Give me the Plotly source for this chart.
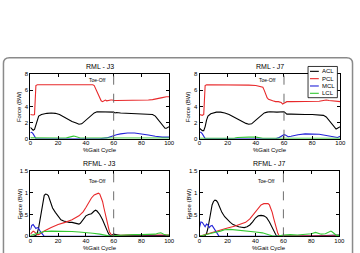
import plotly.graph_objects as go

W, H = 360, 253

series_names = ["ACL", "PCL", "MCL", "LCL"]
series_colors = ["#000000", "#e8292b", "#2323d8", "#34c834"]
panel_titles = ["RML - J3", "RML - J7", "RFML - J3", "RFML - J7"]
toe_off = 60
x_ticks = [0, 20, 40, 60, 80, 100]
top_y_ticks = [0, 2, 4, 6, 8]
bottom_y_ticks = [0, 0.5, 1, 1.5]

# ---------------- RML - J3 ----------------
rml_j3_acl_x = [0,1,2,3,4,5,6,8,10,12,15,18,21,24,27,30,33,35,37,40,43,46,48,50,55,58,60,61,62,65,70,75,80,85,88,90,92,94,96,97,98,99,100]
rml_j3_acl_y = [1.4,1.15,1.05,1.15,1.7,2.4,2.8,3.0,3.1,3.15,3.2,3.15,3.0,2.7,2.4,2.15,1.95,1.8,1.85,2.3,2.8,3.2,3.35,3.35,3.35,3.35,3.3,3.2,3.25,3.2,3.15,3.15,3.1,3.05,3.0,2.8,2.4,1.9,1.5,1.3,1.3,1.4,1.5]
rml_j3_pcl_x = [0,1,2,3,3.5,4,5,10,20,30,40,45,46,47,48,49,50,51,52,53,54,55,56,57,58,59,60,62,65,70,75,80,85,88,90,92,95,98,100]
rml_j3_pcl_y = [3.0,2.95,2.95,3.0,4.5,6.6,6.7,6.7,6.7,6.7,6.7,6.7,6.6,6.2,5.8,5.3,4.9,4.7,4.6,4.7,4.8,4.7,4.75,4.8,4.8,4.8,4.75,4.75,4.75,4.75,4.75,4.8,4.8,4.85,4.9,5.0,5.1,5.2,5.2]
rml_j3_mcl_x = [0,1,2,3,4,5,50,55,58,60,62,65,70,75,80,85,90,95,100]
rml_j3_mcl_y = [0.75,0.8,0.6,0.2,0.02,0,0,0.1,0.3,0.4,0.5,0.6,0.7,0.7,0.6,0.45,0.3,0.2,0.2]
rml_j3_lcl_x = [0,5,10,20,26,28,30,31,32,34,36,40,50,60,70,80,90,100]
rml_j3_lcl_y = [0.1,0.08,0.08,0.08,0.1,0.2,0.3,0.32,0.3,0.15,0.08,0.08,0.08,0.08,0.08,0.08,0.08,0.08]

# ---------------- RML - J7 ----------------
rml_j7_acl_x = rml_j3_acl_x
rml_j7_acl_y = [1.3,1.1,1.0,1.0,1.5,2.3,2.8,3.1,3.2,3.3,3.3,3.2,3.0,2.7,2.4,2.1,1.9,1.8,1.85,2.3,2.8,3.2,3.3,3.35,3.3,3.3,3.35,3.2,3.05,3.05,3.0,3.0,3.0,2.95,2.9,2.7,2.3,1.8,1.4,1.2,1.3,1.4,1.5]
rml_j7_pcl_x = [0,1,2,3,3.5,4,5,10,20,30,35,40,44,45,46,47,48,49,50,52,54,56,58,59,60,61,62,65,70,80,85,88,90,92,95,100]
rml_j7_pcl_y = [3.0,2.9,2.9,3.0,4.5,6.6,6.7,6.7,6.7,6.7,6.65,6.6,6.5,6.4,6.0,5.5,5.1,4.9,4.8,4.7,4.6,4.6,4.5,4.3,4.4,4.5,4.6,4.6,4.6,4.6,4.65,4.75,4.8,4.75,4.7,4.6]
rml_j7_mcl_x = [0,1,2,3,4,5,50,54,56,58,59,60,61,62,63,65,70,75,80,85,90,95,97,98,100]
rml_j7_mcl_y = [0.8,0.8,0.6,0.2,0.02,0,0,0,0.1,0.3,0.45,0.5,0.45,0.3,0.25,0.3,0.5,0.6,0.6,0.55,0.4,0.2,0.1,0.15,0.3]
rml_j7_lcl_x = [0,10,20,25,27,30,35,40,42,45,50,60,70,80,90,100]
rml_j7_lcl_y = [0.05,0.05,0.05,0.07,0.15,0.2,0.2,0.2,0.15,0.05,0.05,0.05,0.05,0.05,0.05,0.05]

# ---------------- RFML - J3 ----------------
rfml_j3_acl_x = [0,2,4,5,6,7,8,9,10,11,12,13,14,15,16,18,20,22,24,26,28,30,32,34,35,36,38,40,42,44,46,47,48,50,52,54,56,57,58,59,60,65,70,80,90,100]
rfml_j3_acl_y = [0.0,0.0,0.02,0.08,0.2,0.4,0.65,0.85,0.94,0.97,0.96,0.93,0.85,0.75,0.65,0.55,0.45,0.38,0.35,0.33,0.32,0.32,0.31,0.29,0.28,0.3,0.4,0.47,0.5,0.52,0.58,0.6,0.58,0.5,0.38,0.22,0.08,0.03,0.02,0.03,0.05,0.02,0.02,0.02,0.02,0.02]
rfml_j3_pcl_x = [0,1,2,3,4,5,6,8,10,15,20,25,30,35,38,40,42,44,46,48,49,50,51,52,53,54,55,56,57,58,59,60,70,80,90,100]
rfml_j3_pcl_y = [0.05,0.1,0.12,0.1,0.06,0.04,0.04,0.08,0.12,0.2,0.27,0.32,0.38,0.47,0.56,0.66,0.78,0.88,0.95,0.99,0.99,0.97,0.9,0.8,0.65,0.5,0.35,0.2,0.1,0.05,0.02,0.02,0.03,0.04,0.03,0.03]
rfml_j3_mcl_x = [0,1,2,3,4,5,6,7,8,9,10,11,100]
rfml_j3_mcl_y = [0.15,0.25,0.27,0.22,0.18,0.2,0.18,0.12,0.07,0.03,0.0,0.0,0.0]
rfml_j3_lcl_x = [0,2,5,8,10,15,20,25,30,35,40,45,50,53,55,58,60,65,70,75,80,85,90,92,94,96,98,100]
rfml_j3_lcl_y = [0.02,0.04,0.07,0.1,0.11,0.12,0.12,0.12,0.11,0.1,0.09,0.07,0.05,0.03,0.01,0.0,0.02,0.03,0.04,0.04,0.04,0.04,0.05,0.07,0.08,0.05,0.03,0.03]

# ---------------- RFML - J7 ----------------
rfml_j7_acl_x = [0,3,4,5,6,7,8,9,10,11,12,13,14,15,16,18,20,22,24,26,28,30,32,34,36,38,40,42,44,46,48,50,52,53,54,55,56,60,70,80,90,100]
rfml_j7_acl_y = [0.0,0.0,0.02,0.06,0.18,0.38,0.58,0.72,0.8,0.83,0.82,0.78,0.7,0.62,0.55,0.45,0.38,0.32,0.27,0.24,0.22,0.21,0.2,0.22,0.26,0.33,0.42,0.47,0.48,0.47,0.43,0.33,0.2,0.12,0.05,0.01,0.0,0.0,0.0,0.0,0.02,0.03]
rfml_j7_pcl_x = [0,2,5,10,15,20,25,30,33,36,38,40,42,44,46,48,49,50,51,52,53,54,55,56,57,60,70,80,90,100]
rfml_j7_pcl_y = [0.0,0.02,0.05,0.1,0.15,0.19,0.23,0.28,0.32,0.4,0.48,0.58,0.66,0.72,0.75,0.76,0.75,0.72,0.65,0.55,0.42,0.3,0.18,0.07,0.01,0.01,0.01,0.01,0.01,0.01]
rfml_j7_mcl_x = [0,1,2,3,4,5,6,7,8,9,10,11,12,13,14,100]
rfml_j7_mcl_y = [0.2,0.33,0.32,0.25,0.22,0.28,0.26,0.2,0.24,0.25,0.2,0.12,0.07,0.03,0.0,0.0]
rfml_j7_lcl_x = [0,3,6,10,15,18,22,26,30,35,40,45,48,50,52,55,60,65,70,75,80,83,85,87,90,92,94,95,97,98,100]
rfml_j7_lcl_y = [0.0,0.02,0.05,0.08,0.12,0.15,0.16,0.15,0.13,0.12,0.1,0.08,0.06,0.03,0.01,0.0,0.03,0.04,0.03,0.04,0.06,0.09,0.07,0.05,0.06,0.1,0.12,0.1,0.04,0.02,0.02]

panels = [
    [(rml_j3_acl_x, rml_j3_acl_y), (rml_j3_pcl_x, rml_j3_pcl_y), (rml_j3_mcl_x, rml_j3_mcl_y), (rml_j3_lcl_x, rml_j3_lcl_y)],
    [(rml_j7_acl_x, rml_j7_acl_y), (rml_j7_pcl_x, rml_j7_pcl_y), (rml_j7_mcl_x, rml_j7_mcl_y), (rml_j7_lcl_x, rml_j7_lcl_y)],
    [(rfml_j3_acl_x, rfml_j3_acl_y), (rfml_j3_pcl_x, rfml_j3_pcl_y), (rfml_j3_mcl_x, rfml_j3_mcl_y), (rfml_j3_lcl_x, rfml_j3_lcl_y)],
    [(rfml_j7_acl_x, rfml_j7_acl_y), (rfml_j7_pcl_x, rfml_j7_pcl_y), (rfml_j7_mcl_x, rfml_j7_mcl_y), (rfml_j7_lcl_x, rfml_j7_lcl_y)],
]

def px(v):
    return v / W

def py(v):
    return 1 - v / H

# pixel boxes (left, right, top, bottom)
boxes = [(29, 171, 73, 139), (202, 346, 73, 139), (29, 171, 172, 239), (202, 345, 172, 239)]
y_ranges = [[0, 8], [0, 8], [0, 1.5], [0, 1.5]]
y_tickss = [top_y_ticks, top_y_ticks, bottom_y_ticks, bottom_y_ticks]
toe_text_y = [7.3, 7.3, 1.28, 1.28]

FONT = "Liberation Sans, Arial, sans-serif"
fig = go.Figure()
layout = dict(width=W, height=H, margin=dict(l=0, r=0, t=0, b=0),
              paper_bgcolor="white", plot_bgcolor="white", showlegend=False,
              font=dict(family=FONT, size=6, color="black"))
annotations = []
shapes = []

def note(x, y, text, size, **kw):
    d = dict(x=x, y=y, xref="paper", yref="paper", text=text, showarrow=False,
             xanchor="center", yanchor="middle",
             font=dict(size=size, family=FONT, color="black"))
    d.update(kw)
    return d

for i, (box, series) in enumerate(zip(boxes, panels)):
    n = "" if i == 0 else str(i + 1)
    xa, ya = "x" + n, "y" + n
    l, r, t, b = box
    for (xs, ys), color, name in zip(series, series_colors, series_names):
        fig.add_trace(go.Scatter(x=xs, y=ys, mode="lines", name=name,
                                 line=dict(color=color, width=1.1),
                                 xaxis=xa, yaxis=ya, hoverinfo="skip"))
    axis_common = dict(showline=True, linecolor="black", linewidth=1, mirror="ticks",
                       ticks="inside", ticklen=3, tickwidth=0.8, tickcolor="black",
                       showgrid=False, zeroline=False,
                       tickfont=dict(family=FONT, size=6, color="black"))
    layout["xaxis" + n] = dict(domain=[px(l), px(r)], range=[0, 100], tickvals=x_ticks,
                               anchor=ya, ticklabelstandoff=-2, **axis_common)
    layout["yaxis" + n] = dict(domain=[py(b), py(t)], range=y_ranges[i], tickvals=y_tickss[i],
                               anchor=xa, **axis_common)
    shapes.append(dict(type="line", xref=xa, yref=ya + " domain", x0=toe_off, x1=toe_off,
                       y0=0, y1=1, line=dict(color="#6e6e6e", width=1, dash="dash")))
    annotations.append(dict(x=48, y=toe_text_y[i], xref=xa, yref=ya, text="Toe-Off",
                            showarrow=False, xanchor="center", yanchor="middle",
                            font=dict(size=5, family=FONT, color="black")))
    annotations.append(note(px((l + r) / 2), py(t - 8), panel_titles[i], 7))
    annotations.append(note(px((l + r) / 2), py(b + 11.5), "%Gait Cycle", 6))
    annotations.append(note(px(l - 11), py((t + b) / 2), "Force (BW)", 6, textangle=-90))

# manual legend in RML - J7 panel
lg_l, lg_r, lg_t, lg_b = 313, 343, 65, 97
shapes.append(dict(type="rect", xref="paper", yref="paper", x0=px(lg_l), x1=px(lg_r),
                   y0=py(lg_b), y1=py(lg_t), line=dict(color="black", width=0.8),
                   fillcolor="white", layer="above"))
row_y = [70, 77.5, 85, 92.5]
for name, color, ry in zip(series_names, series_colors, row_y):
    shapes.append(dict(type="line", xref="paper", yref="paper", x0=px(315), x1=px(324),
                       y0=py(ry), y1=py(ry), line=dict(color=color, width=1.1), layer="above"))
    annotations.append(note(px(325), py(ry), name, 6, xanchor="left"))

# rounded outer border
r_ = 6
x0b, x1b, y0b = 1.5, 358.5, 56
path = (f"M {px(x0b)} {py(280)} L {px(x0b)} {py(y0b + r_)} "
        f"Q {px(x0b)} {py(y0b)} {px(x0b + r_)} {py(y0b)} "
        f"L {px(x1b - r_)} {py(y0b)} "
        f"Q {px(x1b)} {py(y0b)} {px(x1b)} {py(y0b + r_)} "
        f"L {px(x1b)} {py(280)}")
shapes.append(dict(type="path", xref="paper", yref="paper", path=path,
                   line=dict(color="#8a8a8a", width=1.5)))

layout["annotations"] = annotations
layout["shapes"] = shapes
fig.update_layout(**layout)
fig.write_html("out.html")
